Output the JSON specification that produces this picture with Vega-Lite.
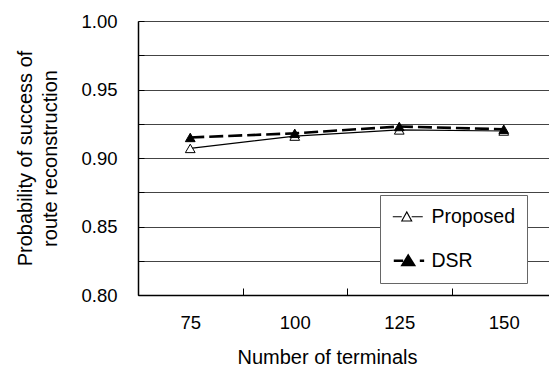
{
  "$schema": "https://vega.github.io/schema/vega-lite/v6.json",
  "autosize": "none",
  "padding": {"left": 138, "top": 21, "right": 0, "bottom": 73},
  "width": 418,
  "height": 274,
  "background": "white",
  "config": {
    "view": {"stroke": null},
    "font": "Liberation Sans",
    "axis": {"labelFont": "Liberation Sans", "titleFont": "Liberation Sans", "labelColor": "black", "titleColor": "black", "titleFontWeight": "normal", "domainColor": "black", "tickColor": "black"}
  },
  "data": {
    "values": [
      {"terminals": "75", "series": "Proposed", "prob": 0.907},
      {"terminals": "100", "series": "Proposed", "prob": 0.916},
      {"terminals": "125", "series": "Proposed", "prob": 0.9205},
      {"terminals": "150", "series": "Proposed", "prob": 0.9197},
      {"terminals": "75", "series": "DSR", "prob": 0.915},
      {"terminals": "100", "series": "DSR", "prob": 0.918},
      {"terminals": "125", "series": "DSR", "prob": 0.923},
      {"terminals": "150", "series": "DSR", "prob": 0.921}
    ]
  },
  "encoding": {
    "x": {
      "field": "terminals", "type": "ordinal", "sort": ["75", "100", "125", "150"],
      "scale": {"type": "band", "paddingInner": 0, "paddingOuter": 0},
      "axis": {"title": "Number of terminals", "labelAngle": 0, "labelFontSize": 18.5, "titleFontSize": 20, "tickBand": "extent", "tickSize": -7, "labelPadding": 25, "titleX": 189, "titlePadding": 16, "grid": false, "domainWidth": 1.5}
    },
    "y": {
      "field": "prob", "type": "quantitative",
      "scale": {"domain": [0.8, 1.0], "nice": false, "zero": false},
      "axis": {
        "title": ["Probability of success of", "route reconstruction"],
        "values": [0.8, 0.825, 0.85, 0.875, 0.9, 0.925, 0.95, 0.975, 1.0],
        "format": ".2f",
        "labelExpr": "abs(datum.value*20 - round(datum.value*20)) < 0.001 ? datum.label : ''",
        "labelFontSize": 18.5, "titleFontSize": 20, "titleLineHeight": 25,
        "tickSize": -6, "labelPadding": 27, "titlePadding": 20,
        "grid": true, "gridColor": "#444", "gridWidth": 1, "domainWidth": 1.5
      }
    }
  },
  "layer": [
    {
      "transform": [{"filter": "datum.series == 'Proposed'"}],
      "mark": {"type": "line", "color": "black", "strokeWidth": 1.2},
      "encoding": {}
    },
    {
      "transform": [{"filter": "datum.series == 'DSR'"}],
      "mark": {"type": "line", "color": "black", "strokeWidth": 2.6, "strokeDash": [14, 5]},
      "encoding": {}
    },
    {
      "mark": {"type": "point", "shape": "triangle-up", "size": 95, "stroke": "black", "strokeWidth": 1, "opacity": 1},
      "encoding": {
        "fill": {
          "field": "series", "type": "nominal",
          "scale": {"domain": ["Proposed", "DSR"], "range": ["white", "black"]},
          "legend": {
            "title": null, "orient": "none", "legendX": 242, "legendY": 174,
            "fillColor": "white", "strokeColor": "#666", "padding": 12,
            "labelFontSize": 19.5, "labelFont": "Liberation Sans", "labelColor": "black",
            "symbolSize": 784, "symbolStrokeColor": "black", "symbolOpacity": 1,
            "rowPadding": 23, "labelOffset": 20,
            "encode": {
              "symbols": {
                "update": {
                  "shape": {"signal": "datum.value == 'DSR' ? 'M-0.57,0H0.1M1.29,0H1.6M0.07,0.3L0.46,-0.34L0.86,0.3Z' : 'M-0.64,0H0M0.71,0H1.5M0,0.3L0.36,-0.34L0.71,0.3Z'"},
                  "strokeWidth": {"signal": "datum.value == 'DSR' ? 2.6 : 1.1"},
                  "stroke": {"value": "black"}
                }
              }
            }
          }
        }
      }
    }
  ]
}
